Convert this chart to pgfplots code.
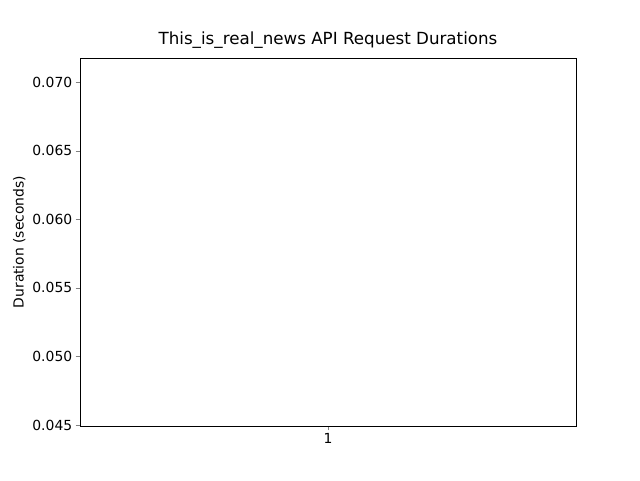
\documentclass[border=0pt]{standalone}
\usepackage{pgfplots}
\pgfplotsset{compat=1.18}
\usepgfplotslibrary{statistics}
\usepackage{fontspec}
\setmainfont{DejaVu Sans}
\begin{document}
\begin{tikzpicture}
\useasboundingbox (-80pt,-54pt) rectangle (560pt,426pt);
\begin{axis}[
  at={(0,0)}, anchor=south west,
  width=496pt, height=368pt, scale only axis,
  xmin=0.5, xmax=1.5, ymin=0.04493, ymax=0.07175,
  xtick={1}, xticklabels={1},
  ytick={0.045,0.05,0.055,0.06,0.065,0.07},
  yticklabel style={/pgf/number format/fixed,/pgf/number format/precision=3,/pgf/number format/fixed zerofill},
  /pgf/number format/assume math mode=true,
  tick label style={font=\fontsize{13.9}{16}\selectfont},
  ylabel={Duration (seconds)},
  label style={font=\fontsize{13.9}{16}\selectfont},
  title={This\_is\_real\_news API Request Durations},
  title style={font=\fontsize{16.7}{19}\selectfont},
  tick align=outside, xtick pos=bottom, ytick pos=left,
  scaled y ticks=false,
]
\addplot[black, line width=1pt, boxplot prepared={draw position=1, lower whisker=0.04609, lower quartile=0.04702, median=0.04760, upper quartile=0.04806, upper whisker=0.04901, box extend=0.15, whisker extend=0.075},
  boxplot/every median/.style={draw=orange}, mark=o, mark options={line width=1pt}, mark size=4pt]
  coordinates {(0,0.05103) (0,0.05017) (0,0.07063)};
\end{axis}
\end{tikzpicture}
\end{document}
